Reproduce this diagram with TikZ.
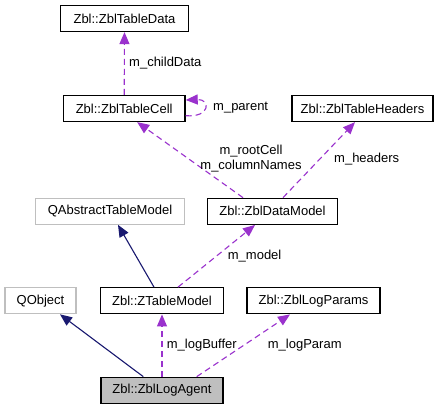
\documentclass[tikz,border=0pt]{standalone}
\usepackage{fontspec}
\setmainfont{Liberation Sans}
\usetikzlibrary{arrows.meta}
\definecolor{dox}{HTML}{9A32CD}
\definecolor{navyblue}{HTML}{191970}
\definecolor{gbox}{HTML}{BFBFBF}
\begin{document}
\begin{tikzpicture}[x=1pt,y=-1pt,
 cls/.style={draw=black, line width=1.3pt, fill=white, inner sep=0pt, minimum height=26pt, font=\fontsize{13}{15}\selectfont},
 ext/.style={cls, draw=gbox, line width=1.1pt},
 cur/.style={cls, fill=gbox},
 uses/.style={draw=dox, line width=1.1pt, dash pattern=on 6pt off 4pt, -{Triangle[length=12pt,width=10pt]}},
 inh/.style={draw=navyblue, line width=1.1pt, -{Triangle[length=12pt,width=10pt]}},
 lbl/.style={font=\fontsize{13}{15}\selectfont, align=center, inner sep=0pt}]
\fill[white] (0,0) rectangle (445,409);
\useasboundingbox (0,0) rectangle (445,409);

\node[cls, minimum width=127.6pt] (td) at (124.5,18.5) {Zbl::ZblTableData};
\node[cls, minimum width=121.7pt] (tc) at (124.2,108.5) {Zbl::ZblTableCell};
\node[cls, minimum width=141pt] (th) at (362.5,108.5) {Zbl::ZblTableHeaders};
\node[ext, minimum width=148.6pt] (qa) at (110,211.3) {QAbstractTableModel};
\node[cls, minimum width=130pt] (dm) at (272.5,211.3) {Zbl::ZblDataModel};
\node[ext, minimum width=71pt] (qo) at (40.5,300.8) {QObject};
\node[cls, minimum width=122.6pt] (zt) at (162,300.8) {Zbl::ZTableModel};
\node[cls, minimum width=133pt] (lp) at (313.5,300.8) {Zbl::ZblLogParams};
\node[cur, minimum width=122pt] (la) at (162,390.3) {Zbl::ZblLogAgent};

\draw[uses] (tc.north) -- (td.south);
\node[lbl, anchor=west] (l1) at (129,62.7) {m\_childData};

\draw[uses] ([yshift=-7.2pt]tc.east) .. controls +(25,2) and +(25,-1) .. ([yshift=8.5pt]tc.east);
\node[lbl, anchor=west] (l2) at (213,107.3) {m\_parent};

\draw[uses] ([xshift=-29.5pt]dm.north) -- ([xshift=13pt]tc.south);
\node[lbl] (l3) at (251,159) {m\_rootCell\\m\_columnNames};

\draw[uses] ([xshift=10.5pt]dm.north) -- ([xshift=-7.5pt]th.south);
\node[lbl, anchor=west] (l4) at (334,159) {m\_headers};

\draw[inh] ([xshift=-8pt]zt.north) -- ([xshift=8pt]qa.south);
\draw[uses] ([xshift=16pt]zt.north) -- ([xshift=-17.5pt]dm.south);
\node[lbl, anchor=west] (l5) at (227.7,256) {m\_model};

\draw[inh] ([xshift=-18.7pt]la.north) -- ([xshift=19.5pt]qo.south);
\draw[uses] (la.north) -- (zt.south);
\node[lbl, anchor=west] (l6) at (166.7,345) {m\_logBuffer};
\draw[uses] ([xshift=34.7pt]la.north) -- ([xshift=-23.5pt]lp.south);
\node[lbl, anchor=west] (l7) at (267.7,345) {m\_logParam};
\end{tikzpicture}
\end{document}
